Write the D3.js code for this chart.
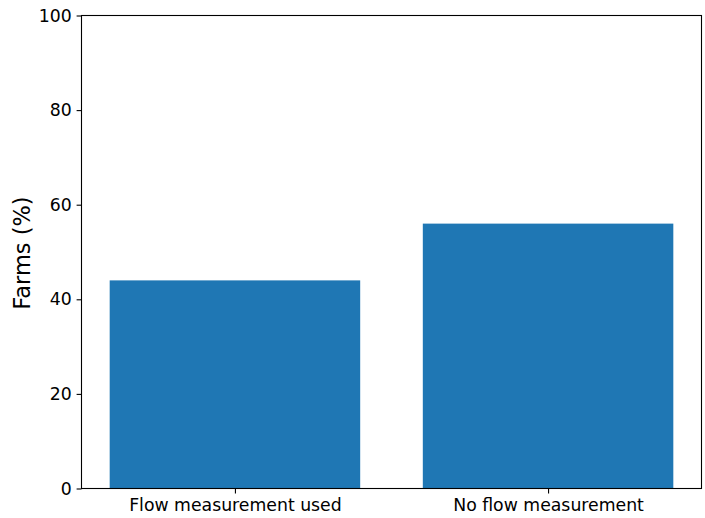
<!DOCTYPE html>
<html><head><meta charset="utf-8">
<script src="https://cdn.jsdelivr.net/npm/d3@7"></script>
<style>body{margin:0;background:#fff}svg{display:block}text{font-family:"DejaVu Sans",sans-serif;fill:#000}</style>
</head><body><svg id="c" width="705" height="518"></svg>
<script>
const categories = ["Flow measurement used", "No flow measurement"];
const values = [44, 56];
const yTicks = [0, 20, 40, 60, 80, 100];
const yLabel = "Farms (%)";

const svg = d3.select("#c");
const L = 81.5, R = 701.5, T = 15.5, B = 488.5;
const x = d3.scaleLinear().domain([-0.49, 1.49]).range([L, R]);
const y = d3.scaleLinear().domain([0, 100]).range([B, T]);
const bw = 0.8;

svg.selectAll("rect.bar").data(values).enter().append("rect")
  .attr("class", "bar")
  .attr("x", (d, i) => x(i - bw / 2))
  .attr("width", (d, i) => x(i + bw / 2) - x(i - bw / 2))
  .attr("y", d => y(d))
  .attr("height", d => y(0) - y(d))
  .attr("fill", "#1f77b4");

const yAxis = svg.append("g").attr("transform", `translate(${L},0)`)
  .call(d3.axisLeft(y).tickValues(yTicks).tickSize(4.9).tickPadding(4.9).tickFormat(d3.format("d")));
const xAxis = svg.append("g").attr("transform", `translate(0,${B})`)
  .call(d3.axisBottom(x).tickValues([0, 1]).tickSize(4.9).tickPadding(4.9).tickFormat((d) => categories[d]));
[yAxis, xAxis].forEach(g => {
  g.select(".domain").remove();
  g.attr("font-size", null).attr("font-family", null);
  g.selectAll("line").attr("stroke", "#000").attr("stroke-width", 1.1);
  g.selectAll("text").style("font-size", "17.3px").attr("fill", "#000");
});

svg.append("rect").attr("x", L).attr("y", T).attr("width", R - L).attr("height", B - T)
  .attr("fill", "none").attr("stroke", "#000").attr("stroke-width", 1.1);

svg.append("text").attr("transform", `translate(30,${(T + B) / 2 + 1}) rotate(-90)`)
  .attr("text-anchor", "middle").style("font-size", "22.5px").text(yLabel);
</script></body></html>
